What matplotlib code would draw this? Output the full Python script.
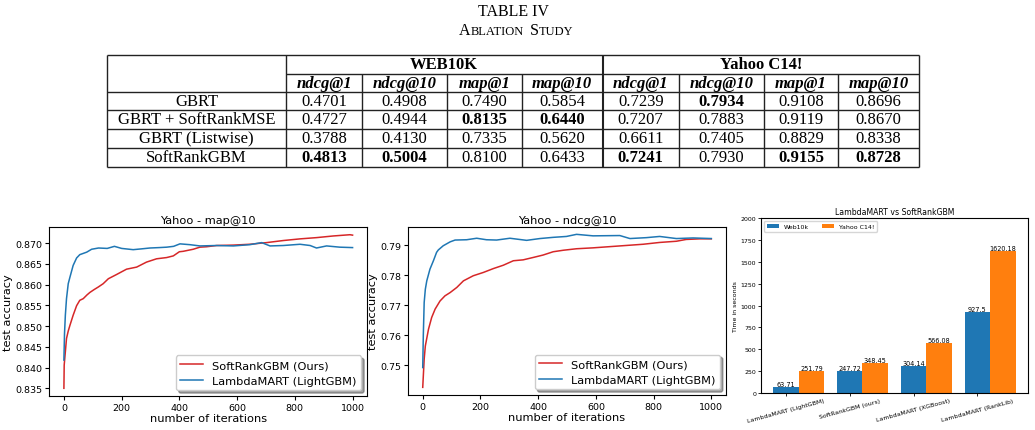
import numpy as np
import matplotlib
matplotlib.use("Agg")
import matplotlib.pyplot as plt
from matplotlib.ticker import MultipleLocator
from matplotlib.offsetbox import TextArea, HPacker, AnnotationBbox

## table data ##

methods = ["GBRT", "GBRT + SoftRankMSE", "GBRT (Listwise)", "SoftRankGBM"]
datasets = ["WEB10K", "Yahoo C14!"]
metrics = ["ndcg@1", "ndcg@10", "map@1", "map@10"]
web10k_scores = [[0.4701, 0.4908, 0.7490, 0.5854],
                 [0.4727, 0.4944, 0.8135, 0.6440],
                 [0.3788, 0.4130, 0.7335, 0.5620],
                 [0.4813, 0.5004, 0.8100, 0.6433]]
yahoo_scores = [[0.7239, 0.7934, 0.9108, 0.8696],
                [0.7207, 0.7883, 0.9119, 0.8670],
                [0.6611, 0.7405, 0.8829, 0.8338],
                [0.7241, 0.7930, 0.9155, 0.8728]]

## curves ##

map_red_it = [0, 1, 5, 9, 15, 21, 32, 44, 55, 67, 80, 90, 105, 119, 136, 154, 182, 217, 252,
              286, 321, 356, 379, 400, 413, 448, 471, 494, 529, 587, 644, 702, 760, 818, 875,
              933, 991, 1000]
map_red = [0.8350, 0.8406, 0.8438, 0.8470, 0.8488, 0.8502, 0.8526, 0.8549, 0.8562, 0.8566,
           0.8575, 0.8581, 0.8588, 0.8594, 0.8602, 0.8614, 0.8624, 0.8637, 0.8642, 0.8654,
           0.8662, 0.8665, 0.8669, 0.8679, 0.8680, 0.8685, 0.8690, 0.8691, 0.8694, 0.8695,
           0.8697, 0.8701, 0.8706, 0.8710, 0.8713, 0.8717, 0.8720, 0.8719]
map_blue_it = [0, 2, 5, 9, 15, 21, 32, 44, 55, 79, 96, 120, 150, 175, 200, 240, 270, 298, 330,
               356, 380, 402, 437, 471, 529, 587, 644, 685, 714, 760, 818, 853, 875, 910, 956,
               1000]
map_blue = [0.8418, 0.8480, 0.8526, 0.8566, 0.8602, 0.8618, 0.8646, 0.8664, 0.8672, 0.8678,
            0.8685, 0.8688, 0.8687, 0.8692, 0.8687, 0.8684, 0.8686, 0.8688, 0.8689, 0.8690,
            0.8692, 0.8698, 0.8696, 0.8693, 0.8694, 0.8693, 0.8696, 0.8701, 0.8693, 0.8694,
            0.8697, 0.8694, 0.8688, 0.8693, 0.8690, 0.8689]

ndcg_red_it = [0, 5, 9, 20, 31, 43, 60, 77, 95, 118, 141, 175, 210, 245, 279, 314, 348, 383,
               417, 452, 487, 533, 590, 648, 706, 764, 821, 879, 913, 960, 1000]
ndcg_red = [0.7426, 0.7520, 0.7564, 0.7620, 0.7659, 0.7687, 0.7714, 0.7731, 0.7742, 0.7759,
            0.7781, 0.7798, 0.7809, 0.7822, 0.7833, 0.7848, 0.7851, 0.7859, 0.7867, 0.7878,
            0.7883, 0.7888, 0.7891, 0.7895, 0.7899, 0.7903, 0.7909, 0.7913, 0.7919, 0.7921,
            0.7921]
ndcg_blue_it = [0, 2, 5, 9, 14, 25, 37, 48, 54, 71, 95, 112, 152, 187, 221, 256, 302, 360,
                406, 452, 498, 533, 590, 683, 718, 775, 821, 879, 937, 1000]
ndcg_blue = [0.7492, 0.7600, 0.7709, 0.7753, 0.7781, 0.7820, 0.7848, 0.7876, 0.7884, 0.7898,
             0.7911, 0.7917, 0.7918, 0.7923, 0.7918, 0.7917, 0.7923, 0.7916, 0.7922, 0.7926,
             0.7929, 0.7936, 0.7931, 0.7932, 0.7922, 0.7925, 0.7929, 0.7922, 0.7924, 0.7922]

## training time ##

time_models = ["LambdaMART (LightGBM)", "SoftRankGBM (ours)", "LambdaMART (XGBoost)",
               "LambdaMART (RankLib)"]
web10k_time = [63.71, 247.72, 304.14, 927.5]
yahoo_time = [251.79, 348.45, 566.08, 1620.18]

fig = plt.figure(figsize=(10.35, 4.31), dpi=100)

# table drawn in pixel coordinates
tab = fig.add_axes([0, 0, 1, 1])
tab.set_xlim(0, 1035)
tab.set_ylim(431, 0)
tab.axis('off')
serif = 'Liberation Serif'
col_x = [107, 286, 362, 447, 522, 602.5, 679, 764, 838, 919]
row_y = [56, 74.5, 92.5, 111, 130, 149, 167.5]
lc = '#222222'

tab.hlines(row_y[0], col_x[0], col_x[-1], color=lc, lw=1)
tab.hlines(row_y[1], col_x[1], col_x[-1], color=lc, lw=1)
tab.hlines(row_y[2:], col_x[0], col_x[-1], color=lc, lw=1)
for x in col_x:
    top = row_y[0] if x in (col_x[0], col_x[1], col_x[5], col_x[-1]) else row_y[1]
    tab.vlines(x, top, row_y[-1], color=lc, lw=1.5 if x == col_x[5] else 1)

tab.text(513, 12.5, "TABLE IV", ha='center', va='center', family=serif, size=11.5)
big, small = dict(family=serif, size=11.5), dict(family=serif, size=9)
caption = HPacker(children=[
    HPacker(children=[TextArea("A", textprops=big), TextArea("BLATION", textprops=small)],
            sep=0, align="baseline"),
    HPacker(children=[TextArea("S", textprops=big), TextArea("TUDY", textprops=small)],
            sep=0, align="baseline")], sep=4, align="baseline")
tab.add_artist(AnnotationBbox(caption, (516, 31), frameon=False, box_alignment=(0.5, 0.5)))

for d, name in enumerate(datasets):
    xc = (col_x[1 + 4 * d] + col_x[5 + 4 * d]) / 2
    tab.text(xc, (row_y[0] + row_y[1]) / 2, name, ha='center', va='center',
             family=serif, size=12, weight='bold')
for j in range(8):
    xc = (col_x[1 + j] + col_x[2 + j]) / 2
    tab.text(xc, (row_y[1] + row_y[2]) / 2, metrics[j % 4], ha='center', va='center',
             family=serif, size=12, weight='bold', style='italic')

scores = np.hstack([np.array(web10k_scores), np.array(yahoo_scores)])
best = scores.max(axis=0)
for i, m in enumerate(methods):
    yc = (row_y[2 + i] + row_y[3 + i]) / 2
    tab.text((col_x[0] + col_x[1]) / 2, yc, m, ha='center', va='center', family=serif, size=12)
    for j in range(8):
        xc = (col_x[1 + j] + col_x[2 + j]) / 2
        tab.text(xc, yc, "%.4f" % scores[i, j], ha='center', va='center', family=serif,
                 size=12, weight='bold' if scores[i, j] == best[j] else 'normal')

# two convergence plots
fs = 8.2
for rect, title, rit, rv, bit, bv, step in [
        ([0.0478, 0.0789, 0.3068, 0.392], 'Yahoo - map@10', map_red_it, map_red,
         map_blue_it, map_blue, 0.005),
        ([0.3945, 0.0812, 0.3067, 0.3905], 'Yahoo - ndcg@10', ndcg_red_it, ndcg_red,
         ndcg_blue_it, ndcg_blue, 0.01)]:
    ax = fig.add_axes(rect)
    ax.plot(rit, rv, color='tab:red', lw=1.1, label='SoftRankGBM (Ours)')
    ax.plot(bit, bv, color='tab:blue', lw=1.1, label='LambdaMART (LightGBM)')
    ax.yaxis.set_major_locator(MultipleLocator(step))
    ax.set_title(title, fontsize=fs, pad=3)
    ax.set_xlabel('number of iterations', fontsize=fs, labelpad=1)
    ax.set_ylabel('test accuracy', fontsize=fs, labelpad=2)
    ax.tick_params(labelsize=6.8, length=3, pad=2)
    ax.legend(loc='lower right', shadow=True, fontsize=fs)

# time bar chart
ax3 = fig.add_axes([0.7353, 0.0858, 0.2577, 0.406])
x = np.arange(len(time_models))
b1 = ax3.bar(x, web10k_time, 0.4, label='Web10k')
b2 = ax3.bar(x + 0.4, yahoo_time, 0.4, label='Yahoo C14!')
ax3.bar_label(b1, fontsize=4.7, padding=0)
ax3.bar_label(b2, fontsize=4.7, padding=0)
ax3.set_xticks(x)
ax3.set_xticklabels(time_models, rotation=15)
ax3.set_ylim(0, 2000)
ax3.set_ylabel('Time in seconds', fontsize=4.5, labelpad=2)
ax3.set_title('LambdaMART vs SoftRankGBM', fontsize=5.6, pad=3)
ax3.tick_params(labelsize=4.5, length=2, width=0.6, pad=1.5)
ax3.legend(loc='upper left', ncol=2, fontsize=4.5)

fig.savefig('out.png', dpi=100)
